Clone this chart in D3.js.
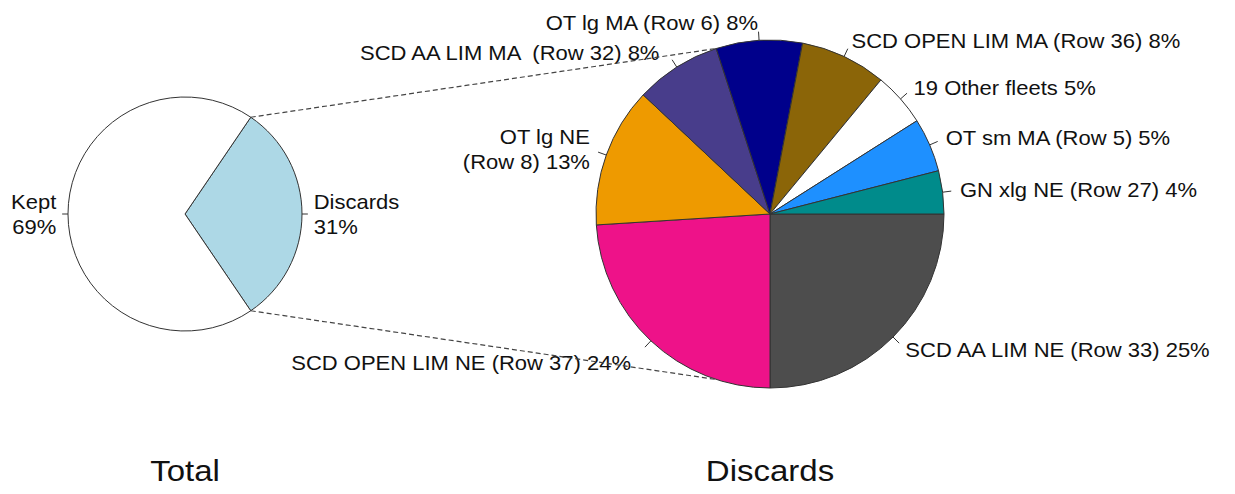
<!DOCTYPE html>
<html>
<head>
<meta charset="utf-8">
<script src="https://cdn.jsdelivr.net/npm/d3@7"></script>
<style>
  body { margin: 0; background: #fff; }
  text { font-family: "Liberation Sans", Arial, sans-serif; fill: #111; white-space: pre; }
</style>
</head>
<body>
<svg id="chart" width="1235" height="494"></svg>
<script>
// left pie
var totalNames = ['Kept', 'Discards'];
var totalValues = [69, 31];
var totalColors = ['#ffffff', '#add8e6'];

// right pie (clockwise from 3 o'clock)
var discardNames = ['SCD AA LIM NE (Row 33)', 'SCD OPEN LIM NE (Row 37)', 'OT lg NE\n(Row 8)',
    'SCD AA LIM MA  (Row 32)', 'OT lg MA (Row 6)', 'SCD OPEN LIM MA (Row 36)',
    '19 Other fleets', 'OT sm MA (Row 5)', 'GN xlg NE (Row 27)'];
var discardValues = [25, 24, 13, 8, 8, 8, 5, 5, 4];
var discardColors = ['#4d4d4d', '#ee1289', '#ee9a00', '#483d8b', '#00008b', '#8b6508',
    '#ffffff', '#1e90ff', '#008b8b'];

var titles = ['Total', 'Discards'];

var svg = d3.select('#chart');
var fontSize = 20;
var stretch = 1.1; // text in the original is a bit wide

var left = { cx: 185, cy: 214, r: 117 };
var right = { cx: 770, cy: 214, r: 174 };

// labels moved by hand in the original
var labelNudge = { 1: [-8, 9], 3: [-8, 0] };

function pt(a, r) { return [r * Math.sin(a), -r * Math.cos(a)]; }

function drawLabel(g, x, y, lines, anchor) {
    var t = g.append('g')
        .attr('transform', 'translate(' + [x, y] + ') scale(' + stretch + ',1)')
        .append('text')
        .attr('text-anchor', anchor)
        .style('font-size', fontSize + 'px');
    var lh = 25;
    var y0 = -(lines.length - 1) * lh / 2;
    lines.forEach(function (s, i) {
        t.append('tspan')
            .attr('x', 0)
            .attr('y', y0 + i * lh)
            .attr('dy', '0.36em')
            .text(s);
    });
}

function drawPie(p, names, values, colors, startAngle, labelFn, nudge) {
    var g = svg.append('g').attr('transform', 'translate(' + [p.cx, p.cy] + ')');
    var pie = d3.pie().sort(null).startAngle(startAngle).endAngle(startAngle + 2 * Math.PI);
    var arcs = pie(values);
    var arc = d3.arc().innerRadius(0).outerRadius(p.r);

    g.selectAll('path.slice')
        .data(arcs)
        .enter()
        .append('path')
        .attr('class', 'slice')
        .attr('d', arc)
        .attr('fill', function (d, i) { return colors[i]; })
        .attr('stroke', '#333')
        .attr('stroke-width', 1);

    arcs.forEach(function (d, i) {
        var m = (d.startAngle + d.endAngle) / 2;
        var a = pt(m, p.r), b = pt(m, p.r * 1.05), c = pt(m, p.r * 1.1);
        g.append('line')
            .attr('x1', a[0]).attr('y1', a[1])
            .attr('x2', b[0]).attr('y2', b[1])
            .attr('stroke', '#333').attr('stroke-width', 1);
        var n = (nudge && nudge[i]) || [0, 0];
        drawLabel(g, c[0] + n[0], c[1] + n[1], labelFn(i).split('\n'), c[0] < 0 ? 'end' : 'start');
    });
    return arcs;
}

// Total: discards centred on 3 o'clock
var totSum = d3.sum(totalValues);
var discHalf = Math.PI * totalValues[1] / totSum;
var leftArcs = drawPie(left, totalNames, [totalValues[1], totalValues[0]],
    [totalColors[1], totalColors[0]], Math.PI / 2 - discHalf,
    function (i) { var k = 1 - i; return totalNames[k] + '\n' + totalValues[k] + '%'; });

var rightArcs = drawPie(right, discardNames, discardValues, discardColors, Math.PI / 2,
    function (i) { return discardNames[i] + ' ' + discardValues[i] + '%'; }, labelNudge);

// dashed connectors from the discards wedge to the big pie
var edgeA = rightArcs[3].endAngle;
var topL = pt(Math.PI / 2 - discHalf, left.r), topR = pt(edgeA, right.r);
var conn = [
    [[left.cx + topL[0], left.cy + topL[1]], [right.cx + topR[0], right.cy + topR[1]]],
    [[left.cx + topL[0], left.cy - topL[1]], [right.cx + topR[0], right.cy - topR[1]]]
];
svg.selectAll('line.conn')
    .data(conn)
    .enter()
    .append('line')
    .attr('class', 'conn')
    .attr('x1', function (d) { return d[0][0]; })
    .attr('y1', function (d) { return d[0][1]; })
    .attr('x2', function (d) { return d[1][0]; })
    .attr('y2', function (d) { return d[1][1]; })
    .attr('stroke', '#444')
    .attr('stroke-width', 1.2)
    .attr('stroke-dasharray', '5,3');

// titles under the pies
svg.selectAll('g.title')
    .data(titles)
    .enter()
    .append('g')
    .attr('class', 'title')
    .attr('transform', function (d, i) {
        return 'translate(' + [i === 0 ? left.cx : right.cx, 481] + ') scale(' + stretch + ',1)';
    })
    .append('text')
    .attr('text-anchor', 'middle')
    .style('font-size', '30px')
    .text(function (d) { return d; });
</script>
</body>
</html>
